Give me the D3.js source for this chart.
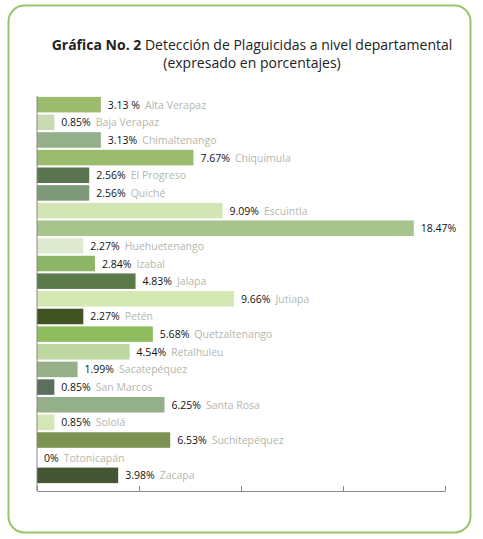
<!DOCTYPE html><html><head><meta charset="utf-8"><script src="https://cdn.jsdelivr.net/npm/d3@7"></script>
<style>body{margin:0;background:#fff}text{font-family:"Open Sans",sans-serif}</style></head><body><svg id="c" width="483" height="539"></svg><script>
const names=["Alta Verapaz","Baja Verapaz","Chimaltenango","Chiquimula","El Progreso","Quiché","Escuintla","","Huehuetenango","Izabal","Jalapa","Jutiapa","Petén","Quetzaltenango","Retalhuleu","Sacatepéquez","San Marcos","Santa Rosa","Sololá","Suchitepéquez","Totonicapán","Zacapa"];
const values=[3.13,0.85,3.13,7.67,2.56,2.56,9.09,18.47,2.27,2.84,4.83,9.66,2.27,5.68,4.54,1.99,0.85,6.25,0.85,6.53,0,3.98];
const valueLabels=["3.13 %","0.85%","3.13%","7.67%","2.56%","2.56%","9.09%","18.47%","2.27%","2.84%","4.83%","9.66%","2.27%","5.68%","4.54%","1.99%","0.85%","6.25%","0.85%","6.53%","0%","3.98%"];
const colors=["#9bbb6e","#c9dbb4","#94b08a","#9bbb6e","#5a7452","#7f9a78","#d3e5b4","#a6c48c","#deebd0","#8db567","#5a7a48","#d5e8b3","#3f5422","#8fbc5e","#bed6a0","#97b08a","#5c6e5c","#94b08a","#d3e8b5","#7a9350","#cccccc","#445533"];
const ticks=[0,5,10,15,20];
const svg=d3.select("#c");
svg.append("rect").attr("x",8.5).attr("y",5.5).attr("width",462).attr("height",527).attr("rx",16).attr("fill","#fff").attr("stroke","#9bc36a").attr("stroke-width",2);
const t=svg.append("text").attr("x",252).attr("y",50).attr("text-anchor","middle").attr("font-size",14).attr("fill","#222");
t.append("tspan").attr("font-weight","bold").text("Gráfica No. 2 ");t.append("tspan").text(" Detección de Plaguicidas a nivel departamental");
svg.append("text").attr("x",252).attr("y",68).attr("text-anchor","middle").attr("font-size",14).attr("fill","#222").text("(expresado en porcentajes)");
const x=d3.scaleLinear().domain([0,20]).range([37,445]);
const y=d3.scaleBand().domain(d3.range(names.length)).range([96,484]).paddingInner(0.12).paddingOuter(0.05);
const g=svg.append("g");
names.forEach((n,i)=>{
 g.append("rect").attr("x",x(0)).attr("y",y(i)).attr("width",x(values[i])-x(0)).attr("height",y.bandwidth()).attr("fill",colors[i]);
 const tx=g.append("text").attr("x",x(values[i])+7).attr("y",y(i)+y.bandwidth()/2+4).attr("font-size",10.5);
 tx.append("tspan").attr("fill","#111").text(valueLabels[i]);
 if(n)tx.append("tspan").attr("fill","#b4b8ad").attr("dx",5).text(n);
});
svg.append("line").attr("x1",37).attr("x2",37).attr("y1",96).attr("y2",491).attr("stroke","#888");
const ax=svg.append("g").attr("transform","translate(0,491)").call(d3.axisBottom(x).tickValues(ticks).tickFormat("").tickSize(5).tickSizeOuter(0));
ax.select(".domain").attr("stroke","#888");ax.selectAll(".tick line").attr("stroke","#888").attr("transform","translate(0,-5)");
</script></body></html>
